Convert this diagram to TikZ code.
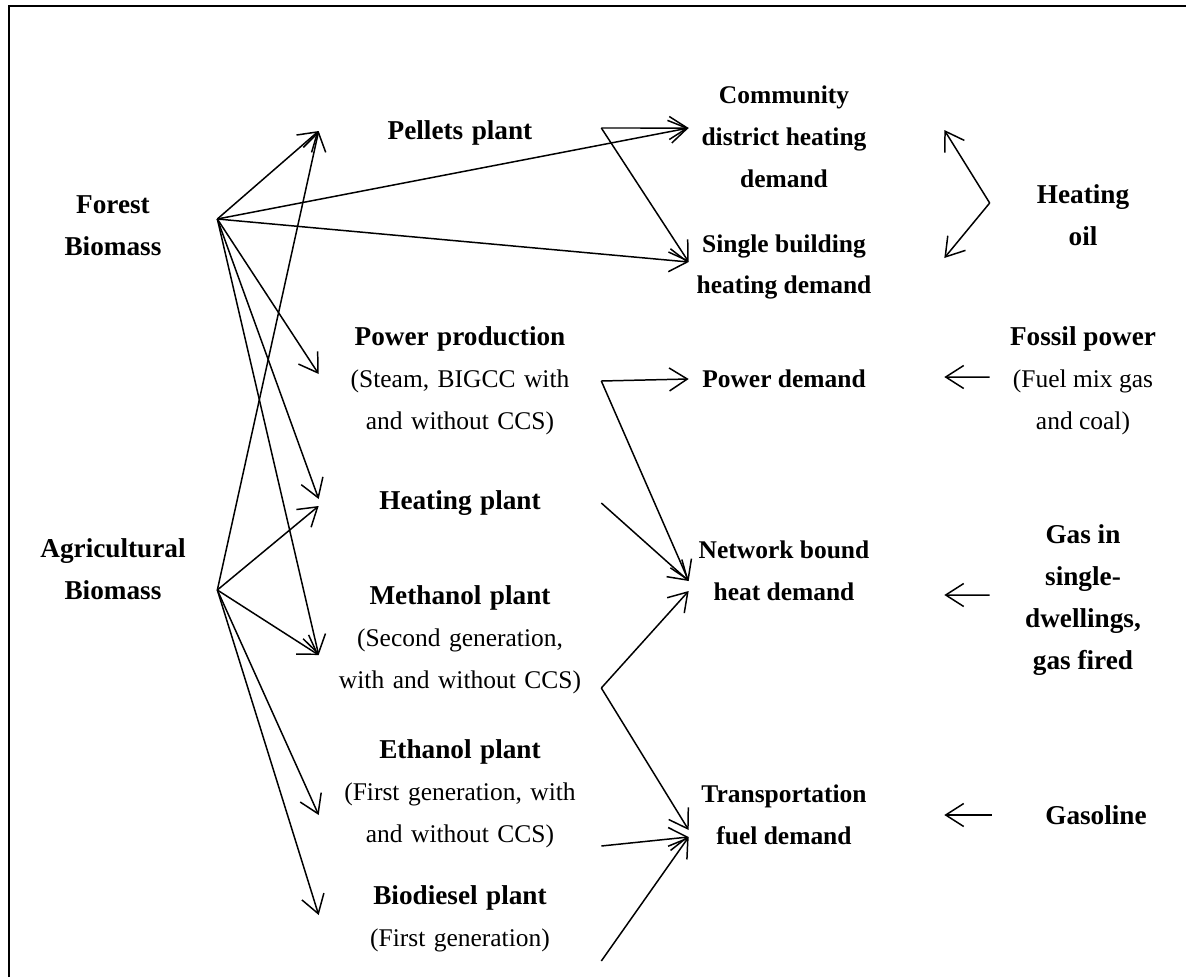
\documentclass[tikz,border=0pt]{standalone}
\usepackage{fontspec}
\setmainfont{Liberation Serif}
\usepackage{tikz}
\usetikzlibrary{arrows.meta,positioning}
\newcommand{\hd}[1]{{\fontsize{15.5}{23.8}\selectfont\bfseries #1}}
\tikzstyle{feed} = [align=center, inner sep=0pt, minimum width=4.16cm, font=\fontsize{15.5}{23.8}\selectfont\bfseries]
\tikzstyle{plant} = [align=center, inner sep=0pt, text width=5.64cm, font=\fontsize{14.5}{23.8}\selectfont]
\tikzstyle{demand} = [align=center, inner sep=0pt, minimum width=3.8cm, font=\fontsize{14.5}{23.8}\selectfont\bfseries]
\tikzstyle{fossil} = [align=center, inner sep=0pt, minimum width=3.72cm, font=\fontsize{14.5}{23.8}\selectfont]
\tikzstyle{arrow} = [-{Straight Barb[length=3.6mm,width=4.6mm]}, line width=0.85pt]

\begin{document}
\begin{tikzpicture}[x=0.02cm, y=-0.02cm]
      \useasboundingbox (0,0) rectangle (1186,977);
      \draw[line width=1.1pt] (9,977) -- (9,6) -- (1186,6);
      %biomass
      \node[feed](forest) at (113,226){Forest\\Biomass};
      \node[feed](agri) at (113,569){Agricultural\\Biomass};
      %plants
      \node[plant](pellets) at (460,133){\hd{Pellets plant}};
      \node[plant](power) at (460,381){\hd{Power production}\\(Steam, BIGCC with\\and without CCS)};
      \node[plant](heat) at (460,503){\hd{Heating plant}};
      \node[plant](meth) at (460,640){\hd{Methanol plant}\\(Second generation,\\with and without CCS)};
      \node[plant](eth) at (460,794){\hd{Ethanol plant}\\(First generation, with\\and without CCS)};
      \node[plant](bio) at (460,919){\hd{Biodiesel plant}\\(First generation)};
      %demands
      \node[demand](comm) at (784,137){Community\\district heating\\demand};
      \node[demand](single) at (784,267){Single building\\heating demand};
      \node[demand](pdem) at (784,379){Power demand};
      \node[demand](net) at (784,571){Network bound\\heat demand};
      \node[demand](trans) at (784,815){Transportation\\fuel demand};
      %fossil alternatives
      \node[fossil](oil) at (1083,215){\hd{Heating}\\\hd{oil}};
      \node[fossil](foss) at (1083,381){\hd{Fossil power}\\(Fuel mix gas\\and coal)};
      \node[fossil](gas) at (1083,600){\hd{Gas in}\\\hd{single-}\\\hd{dwellings,}\\\hd{gas fired}};
      \node[fossil](gasoline) at (1096,815){\hd{Gasoline}};
      %forest biomass
      \draw [arrow] ([yshift=0.14cm]forest.east) -- ([yshift=0.04cm]pellets.west);
      \draw [arrow] ([yshift=0.14cm]forest.east) -- ([yshift=0.18cm]comm.west);
      \draw [arrow] ([yshift=0.14cm]forest.east) -- ([yshift=0.1cm]single.west);
      \draw [arrow] ([yshift=0.14cm]forest.east) -- ([yshift=0.14cm]power.west);
      \draw [arrow] ([yshift=0.14cm]forest.east) -- ([yshift=0.08cm]heat.west);
      \draw [arrow] ([yshift=0.14cm]forest.east) -- ([yshift=-0.3cm]meth.west);
      %agricultural biomass
      \draw [arrow] ([yshift=-0.42cm]agri.east) -- ([yshift=0.04cm]pellets.west);
      \draw [arrow] ([yshift=-0.42cm]agri.east) -- ([yshift=-0.06cm]heat.west);
      \draw [arrow] ([yshift=-0.42cm]agri.east) -- ([yshift=-0.3cm]meth.west);
      \draw [arrow] ([yshift=-0.42cm]agri.east) -- ([yshift=-0.42cm]eth.west);
      \draw [arrow] ([yshift=-0.42cm]agri.east) -- ([yshift=0.08cm]bio.west);
      %plants to demands
      \draw [arrow] ([yshift=0.1cm]pellets.east) -- ([yshift=0.18cm]comm.west);
      \draw [arrow] ([yshift=0.1cm]pellets.east) -- ([yshift=0.1cm]single.west);
      \draw [arrow] (power.east) -- (pdem.west);
      \draw [arrow] (power.east) -- ([yshift=-0.2cm]net.west);
      \draw [arrow] (heat.east) -- ([yshift=-0.2cm]net.west);
      \draw [arrow] ([yshift=-0.96cm]meth.east) -- ([yshift=-0.4cm]net.west);
      \draw [arrow] ([yshift=-0.96cm]meth.east) -- ([yshift=-0.3cm]trans.west);
      \draw [arrow] ([yshift=-1.04cm]eth.east) -- ([yshift=-0.44cm]trans.west);
      \draw [arrow] ([yshift=-0.84cm]bio.east) -- ([yshift=-0.44cm]trans.west);
      %fossil to demands
      \draw [arrow] ([yshift=0.24cm]oil.west) -- ([xshift=1.3cm,yshift=0.14cm]comm.east);
      \draw [arrow] ([yshift=0.24cm]oil.west) -- ([xshift=1.3cm,yshift=0.18cm]single.east);
      \draw [arrow] ([yshift=0.08cm]foss.west) -- ([xshift=1.3cm,yshift=0.04cm]pdem.east);
      \draw [arrow] ([yshift=0.1cm]gas.west) -- ([xshift=1.3cm,yshift=-0.48cm]net.east);
      \draw [arrow] ([xshift=-0.22cm]gasoline.west) -- ([xshift=1.3cm]trans.east);
\end{tikzpicture}
\end{document}
